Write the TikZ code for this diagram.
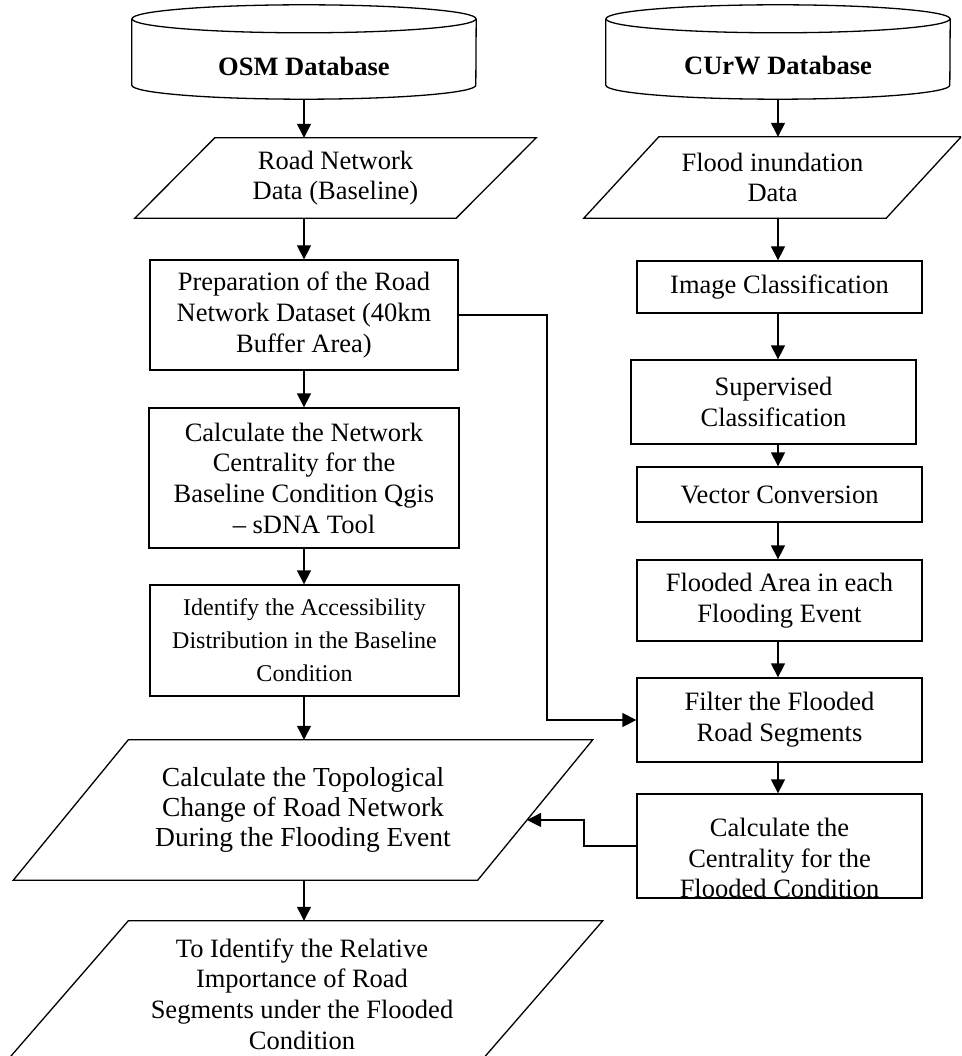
\documentclass[tikz,border=0pt]{standalone}
\usepackage{fontspec}
\setmainfont{Liberation Serif}
\usetikzlibrary{arrows.meta,calc}

% parallelogram outline around a (frameless) node: #1 node, #2 half of the slant offset
\newcommand\slantframe[2]{%
  \draw[line] ([xshift=#2]#1.north west) -- ([xshift=#2]#1.north east)
    -- ([xshift=-#2]#1.south east) -- ([xshift=-#2]#1.south west) -- cycle;}

\tikzset{
  line/.style={line width=1.3pt},
  arr/.style={line, -{Triangle[length=14pt,width=14pt]}},
  txt/.style={align=center, inner sep=0pt, font=\fontsize{26.5}{30.7}\selectfont},
  smalltxt/.style={align=center, inner sep=0pt, font=\fontsize{24}{33}\selectfont},
  bigtxt/.style={align=center, inner sep=0pt, font=\fontsize{27.5}{30}\selectfont},
  procbox/.style 2 args={txt, draw, line, minimum width=#1, minimum height=#2},
  iobox/.style 2 args={txt, minimum width=#1, minimum height=#2},
  dbbody/.style={align=center, inner sep=0pt, font=\fontsize{26.5}{30.7}\selectfont\bfseries,
    minimum width=344pt, minimum height=66pt},
}

\begin{document}
\begin{tikzpicture}[x=1pt,y=-1pt]
\useasboundingbox (0,0) rectangle (961,1056);
\clip (0,0) rectangle (961,1056);

% ---- databases (cylinders)
\node[dbbody] (osm) at (304,66) {OSM Database};
\node[dbbody] (curw) at (778,66) {CUrW Database};
\foreach \n in {osm,curw}{
  \draw[line] ([yshift=14pt]\n.north west) -- ([yshift=14pt]\n.south west)
    arc[start angle=180,end angle=360,x radius=172pt,y radius=14pt]
    -- ([yshift=14pt]\n.north east);
  \draw[line] ([yshift=14pt]\n.north) ellipse[x radius=172pt,y radius=14pt];
}

% ---- left column
\node[iobox={321pt}{80pt}] (rn) at (335.5,178) {Road Network\\Data (Baseline)};
\slantframe{rn}{40pt}
\node[procbox={308pt}{110pt}] (prep) at (304,315)
  {Preparation of the Road\\Network Dataset (40km\\Buffer Area)};
\node[procbox={310pt}{140pt}] (net) at (304,478)
  {Calculate the Network\\Centrality for the\\Baseline Condition Qgis\\-- sDNA Tool};
\node[procbox={309pt}{111pt}, smalltxt] (acc) at (304.5,640.5)
  {Identify the Accessibility\\Distribution in the Baseline\\Condition};
\node[iobox={464pt}{140pt}, bigtxt] (topo) at (303,810)
  {Calculate the Topological\\Change of Road Network\\During the Flooding Event};
\slantframe{topo}{57.5pt}
\node[iobox={474pt}{146pt}] (imp) at (302,994)
  {To Identify the Relative\\Importance of Road\\Segments under the Flooded\\Condition};
\slantframe{imp}{63.5pt}

% ---- right column
\node[iobox={302pt}{81pt}] (flood) at (772.5,177.5) {Flood inundation\\Data};
\slantframe{flood}{37.5pt}
\node[procbox={285pt}{52pt}] (imgc) at (779.5,287) {Image Classification};
\node[procbox={285pt}{84pt}] (sup) at (773.5,402) {Supervised\\Classification};
\node[procbox={285pt}{55pt}] (vec) at (779.5,494.5) {Vector Conversion};
\node[procbox={285pt}{81pt}] (area) at (779.5,600.5) {Flooded Area in each\\Flooding Event};
\node[procbox={285pt}{84pt}] (filt) at (779.5,720) {Filter the Flooded\\Road Segments};
\node[procbox={285pt}{104pt}] (cent) at (779.5,846) {};
\begin{scope}
  \clip (cent.north west) rectangle (cent.south east);
  \node[txt] (centtxt) at (779.5,858) {Calculate the\\Centrality for the\\Flooded Condition};
\end{scope}

% ---- vertical flow
\coordinate (lc) at (304,0);
\coordinate (rc) at (778,0);
\draw[arr] (lc |- osm.south) -- (lc |- rn.north);
\draw[arr] (lc |- rn.south) -- (lc |- prep.north);
\draw[arr] (lc |- prep.south) -- (lc |- net.north);
\draw[arr] (lc |- net.south) -- (lc |- acc.north);
\draw[arr] (lc |- acc.south) -- (lc |- topo.north);
\draw[arr] (lc |- topo.south) -- (lc |- imp.north);

\draw[arr] (rc |- curw.south) -- (rc |- flood.north);
\draw[arr] (rc |- flood.south) -- (rc |- imgc.north);
\draw[arr] (rc |- imgc.south) -- (rc |- sup.north);
\draw[arr] (rc |- sup.south) -- (rc |- vec.north);
\draw[arr] (rc |- vec.south) -- (rc |- area.north);
\draw[arr] (rc |- area.south) -- (rc |- filt.north);
\draw[arr] (rc |- filt.south) -- (rc |- cent.north);

% ---- cross links
\coordinate (j1) at (547,500);
\draw[arr] (prep.east) -| (j1) |- (filt.west);

\coordinate (topoTR) at ([xshift=57.5pt]topo.north east);
\coordinate (topoBR) at ([xshift=-57.5pt]topo.south east);
\coordinate (topoIn) at ($(topoTR)!0.571!(topoBR)$);
\coordinate (j2) at (584,830);
\draw[arr] (cent.west) -| (j2) |- (topoIn);
\end{tikzpicture}
\end{document}
